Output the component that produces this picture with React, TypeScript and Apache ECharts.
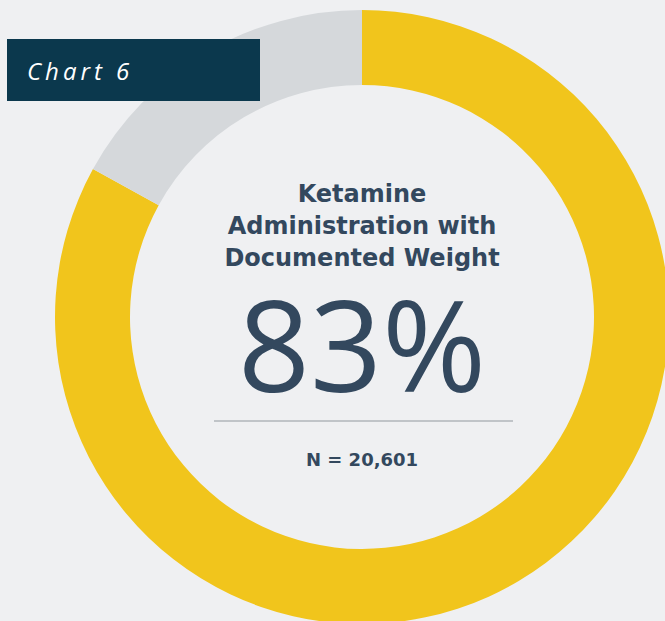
import React, { useEffect, useRef } from "react";
import * as echarts from "echarts";

const categories = ["With documented weight", "Without documented weight"];
const values = [83, 17];
const colors = ["#f1c51c", "#d5d8db"];
const chartLabel = "Chart 6";
const titleLines = ["Ketamine", "Administration with", "Documented Weight"];
const bigValue = "83%";
const sampleText = "N = 20,601";

export default function App() {
  const ref = useRef<HTMLDivElement>(null);
  useEffect(() => {
    if (!ref.current) return;
    const chart = echarts.init(ref.current, null, { renderer: "svg" });
    const textColor = "#33485e";
    chart.setOption({
      animation: false,
      backgroundColor: "#eff0f2",
      series: [
        {
          type: "pie",
          center: [362, 317],
          radius: [232, 307],
          startAngle: 90,
          clockwise: true,
          silent: true,
          label: { show: false },
          labelLine: { show: false },
          itemStyle: { borderWidth: 0 },
          data: categories.map((c, i) => ({
            name: c,
            value: values[i],
            itemStyle: { color: colors[i] },
          })),
        },
      ],
      graphic: [
        {
          type: "rect",
          z: 100,
          shape: { x: 7, y: 39, width: 253, height: 62 },
          style: { fill: "#0b384d" },
        },
        {
          type: "text",
          z: 101,
          x: 27,
          y: 70,
          style: {
            text: chartLabel.split("").join("\u2009"),
            fill: "#ffffff",
            font: "italic 400 24px 'Open Sans', sans-serif",
            verticalAlign: "middle",
            textAlign: "left",
          },
        },
        ...titleLines.map((t, i) => ({
          type: "text",
          z: 101,
          x: 362,
          y: 194 + i * 32,
          style: {
            text: t,
            fill: textColor,
            font: "700 24px 'DejaVu Sans', sans-serif",
            lineHeight: 26,
            textAlign: "center",
            verticalAlign: "middle",
          },
        })),
        {
          type: "text",
          z: 101,
          x: 362,
          y: 343,
          style: {
            text: bigValue,
            fill: textColor,
            font: "400 126px 'Open Sans', sans-serif",
            lineHeight: 100,
            textAlign: "center",
            verticalAlign: "middle",
          },
        },
        {
          type: "line",
          z: 101,
          shape: { x1: 214, y1: 421, x2: 513, y2: 421 },
          style: { stroke: "#c0c4c8", lineWidth: 2 },
        },
        {
          type: "text",
          z: 101,
          x: 362,
          y: 459,
          style: {
            text: sampleText,
            fill: textColor,
            font: "700 18px 'DejaVu Sans', sans-serif",
            textAlign: "center",
            verticalAlign: "middle",
          },
        },
      ],
    });
    return () => chart.dispose();
  }, []);
  return (
    <div
      ref={ref}
      style={{ position: "fixed", left: 0, top: 0, width: 665, height: 621 }}
    />
  );
}
